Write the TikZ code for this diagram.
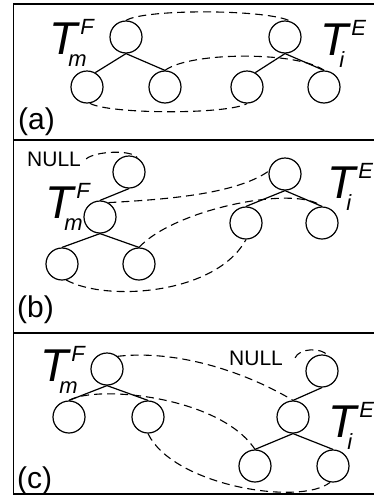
\documentclass[tikz,border=0pt]{standalone}
\usepackage{fontspec}
\setmainfont{Liberation Sans}

\newcommand{\treename}[2]{{\fontsize{46}{46}\selectfont T}\kern-9pt\rlap{\raisebox{-12pt}{\fontsize{22}{22}\selectfont #1}}\kern12pt\raisebox{20pt}{\fontsize{22}{22}\selectfont #2}}

\begin{document}
\begin{tikzpicture}[
        x=1pt, y=-1pt,
        tnode/.style={circle, draw, minimum size=32pt, inner sep=0pt, line width=1.2pt},
        branch/.style={line width=1.2pt},
        match/.style={dash pattern=on 8pt off 5pt, line width=1.1pt},
        tree_label/.style={anchor=base west, inner sep=0pt, font=\itshape},
        null_label/.style={anchor=base west, inner sep=0pt, font=\fontsize{21}{21}\selectfont},
        panel_label/.style={anchor=base west, inner sep=0pt, font=\fontsize{30}{30}\selectfont},
        frame/.style={line width=1.5pt}
    ]
    \useasboundingbox (0,0) rectangle (374,496);
    \draw[frame] (380,4) -- (13.5,4) -- (13.5,494) -- (380,494);
    \draw[frame] (13.5,140) -- (380,140);
    \draw[frame] (13.5,333) -- (380,333);

    \node[tnode] (aFr) at (126,37) {};
    \node[tnode] (aF1) at (87,87) {};
    \node[tnode] (aF2) at (165,87) {};
    \node[tnode] (aEr) at (285,37) {};
    \node[tnode] (aE1) at (247,87) {};
    \node[tnode] (aE2) at (324,87) {};
    \draw[branch] (aF1.60) -- (aFr.south) -- (aF2.north);
    \draw[branch] (aE1.60) -- (aEr.south) -- (aE2.north);
    \draw[match] (aFr.north) .. controls +(20,-12) and +(-20,-12) .. (aEr.70);
    \draw[match] (aF2.north) .. controls +(25,-19) and +(-25,-19) .. (aE2.north);
    \draw[match] (aF1.-80) .. controls +(20,11) and +(-20,11) .. (aE1.south);
    \node[tree_label] (aTF) at (49,54) {\treename{m}{F}};
    \node[tree_label] (aTE) at (320,55) {\treename{i}{E}};
    \node[panel_label] (aLab) at (18,129) {(a)};

    \node[tnode] (bN) at (129,172) {};
    \node[tnode] (bFr) at (100,217) {};
    \node[tnode] (bF1) at (62,264) {};
    \node[tnode] (bF2) at (139,264) {};
    \node[tnode] (bEr) at (285,174) {};
    \node[tnode] (bE1) at (246,223) {};
    \node[tnode] (bE2) at (322,223) {};
    \draw[branch] (bN.south) -- (bFr.north);
    \draw[branch] (bF1.north) -- (bFr.south) -- (bF2.north);
    \draw[branch] (bE1.north) -- (bEr.south) -- (bE2.north);
    \node[null_label] (bNull) at (27,166) {NULL};
    \draw[match] ([xshift=5pt]bNull.east) .. controls +(10,-8) and +(-6,-8) .. (bN.60);
    \draw[match] (bFr.60) .. controls +(52,-3) and +(-34,24) .. (bEr.170);
    \draw[match] (bF2.north) .. controls +(35,-38) and +(-27,-22) .. (bE2.north);
    \draw[match] (bF1.-75) .. controls +(40,22) and +(-30,55) .. (bE1.south);
    \node[tree_label] (bTF) at (45,218) {\treename{m}{F}};
    \node[tree_label] (bTE) at (327,198) {\treename{i}{E}};
    \node[panel_label] (bLab) at (17,317) {(b)};

    \node[tnode] (cFr) at (107,369) {};
    \node[tnode] (cF1) at (69,417) {};
    \node[tnode] (cF2) at (148,417) {};
    \node[tnode] (cN) at (322,371) {};
    \node[tnode] (cEr) at (293,417) {};
    \node[tnode] (cE1) at (255,466) {};
    \node[tnode] (cE2) at (333,466) {};
    \draw[branch] (cF1.north) -- (cFr.south) -- (cF2.north);
    \draw[branch] (cN.south) -- (cEr.north);
    \draw[branch] (cE1.north) -- (cEr.south) -- (cE2.north);
    \node[null_label] (cNull) at (229,365) {NULL};
    \draw[match] ([xshift=12pt]cNull.east) .. controls +(4,-10) and +(-6,-8) .. (cN.70);
    \draw[match] (cFr.50) .. controls +(63,-7) and +(-43,-26) .. (cEr.north);
    \draw[match] (cF1.north) .. controls +(28,-16) and +(-35,-53) .. (cE1.north);
    \draw[match] (cF2.south) .. controls +(25,52) and +(-30,24) .. (cE2.-100);
    \node[tree_label] (cTF) at (40,381) {\treename{m}{F}};
    \node[tree_label] (cTE) at (328,437) {\treename{i}{E}};
    \node[panel_label] (cLab) at (17,488) {(c)};
\end{tikzpicture}
\end{document}
